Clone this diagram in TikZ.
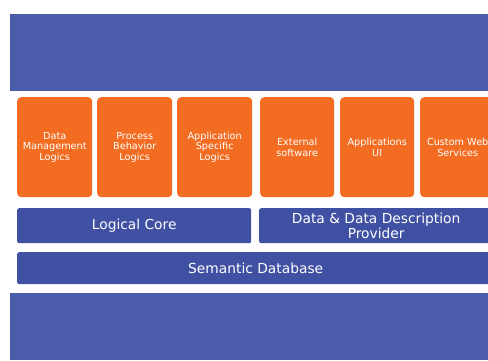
\documentclass[tikz,border=0pt]{standalone}
\usepackage{fontspec}
\setmainfont{DejaVu Sans}
\definecolor{band}{RGB}{74,92,170}
\definecolor{inner}{RGB}{64,80,163}
\definecolor{orng}{RGB}{242,108,34}
\begin{document}
\begin{tikzpicture}[x=1pt,y=-1pt,
  obox/.style={fill=orng,draw=none,rounded corners=4pt,anchor=north west,
    minimum width=75pt,minimum height=100pt,inner sep=0pt},
  otext/.style={align=center,text=white,font=\fontsize{9.7}{10.7}\selectfont},
  bbox/.style={fill=inner,draw=none,rounded corners=2pt,anchor=north west,inner sep=0pt},
  btext/.style={align=center,text=white,font=\fontsize{13.8}{15}\selectfont}]
\useasboundingbox (0,0) rectangle (488,360);
\clip (0,0) rectangle (488,360);
\fill[white] (0,0) rectangle (488,360);
\fill[band] (10,14) rectangle (500,91);
\fill[band] (10,293) rectangle (500,360);
\node[obox] (b1) at (17,97) {};
\node[otext] (t1) at (b1.center) {Data\\Management\\Logics};
\node[obox] (b2) at (97,97) {};
\node[otext] (t2) at (b2.center) {Process\\Behavior\\Logics};
\node[obox] (b3) at (177,97) {};
\node[otext] (t3) at (b3.center) {Application\\Specific\\Logics};
\node[obox,minimum width=74pt] (b4) at (260,97) {};
\node[otext] (t4) at (b4.center) {External\\software};
\node[obox,minimum width=74pt] (b5) at (340,97) {};
\node[otext] (t5) at (b5.center) {Applications\\UI};
\node[obox] (b6) at (420,97) {};
\node[otext] (t6) at (b6.center) {Custom Web\\Services};
\node[bbox,minimum width=234pt,minimum height=35pt] (lc) at (17,208) {};
\node[btext] (tlc) at (lc.center) {Logical Core};
\node[bbox,minimum width=234pt,minimum height=35pt] (dp) at (259,208) {};
\node[btext] (tdp) at ([yshift=-0.5pt]dp.center) {Data \& Data Description\\Provider};
\node[bbox,minimum width=477pt,minimum height=32pt] (sd) at (17,252) {};
\node[btext] (tsd) at (sd.center) {Semantic Database};
\end{tikzpicture}
\end{document}
